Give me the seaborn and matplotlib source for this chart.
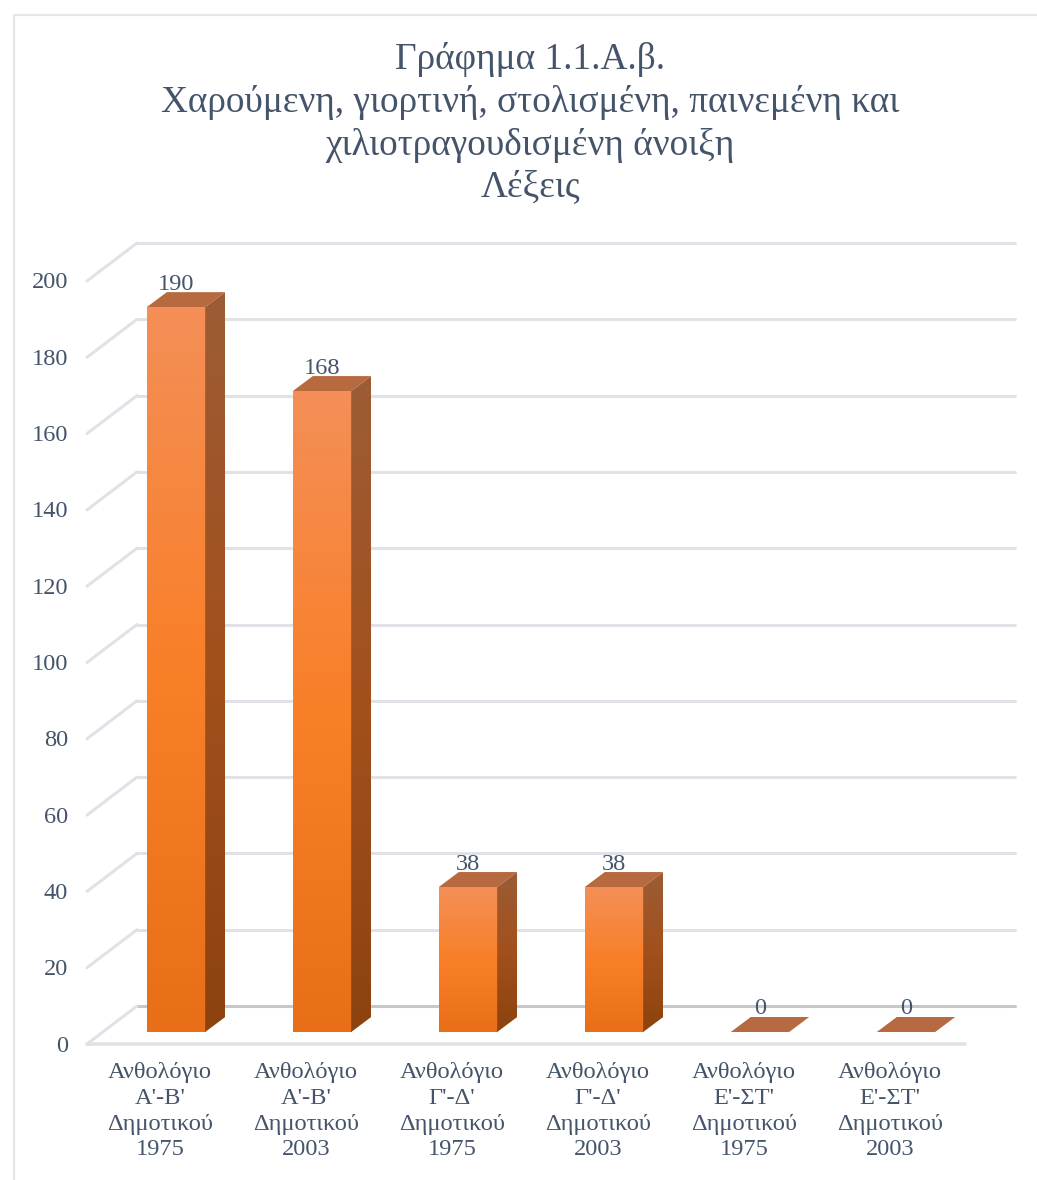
import numpy as np
import pandas as pd
import seaborn as sns
import matplotlib
matplotlib.use("Agg")
import matplotlib.pyplot as plt
from matplotlib.colors import LinearSegmentedColormap
from matplotlib.lines import Line2D
from matplotlib.patches import Polygon
from matplotlib.transforms import Affine2D

categories = ["Ανθολόγιο\nΑ'-Β'\nΔημοτικού\n1975", "Ανθολόγιο\nΑ'-Β'\nΔημοτικού\n2003",
              "Ανθολόγιο\nΓ'-Δ'\nΔημοτικού\n1975", "Ανθολόγιο\nΓ'-Δ'\nΔημοτικού\n2003",
              "Ανθολόγιο\nΕ'-ΣΤ'\nΔημοτικού\n1975", "Ανθολόγιο\nΕ'-ΣΤ'\nΔημοτικού\n2003"]
values = [190, 168, 38, 38, 0, 0]
y_ticks = list(range(0, 201, 20))
title = ("Γράφημα 1.1.Α.β.\nΧαρούμενη, γιορτινή, στολισμένη, παινεμένη και\n"
         "χιλιοτραγουδισμένη άνοιξη\nΛέξεις")

W, H = 1037, 1180
TEXT = "#44546A"
GRID = "#E0E2E7"
GRID_DARK = "#C6C8CF"
PX_X = 146.0      # pixels per category
PX_Y = 3.815      # pixels per value unit
X0_PX, Y0_PX = 176.0, 1032.0  # pixel of category 0 centre / value 0
L, R, T, B = 87, 1015, 243, 1044
FS = 17.6

sns.set_theme(style="white")
plt.rcParams["font.family"] = ["Liberation Serif", "DejaVu Sans"]

fig = plt.figure(figsize=(W / 100, H / 100), dpi=100, facecolor="white")
ax = fig.add_axes([L / W, 1 - B / H, (R - L) / W, (B - T) / H])
ax.set_facecolor("none")

df = pd.DataFrame({"category": categories, "value": values})
sns.barplot(data=df, x="category", y="value", order=categories, color="#F97F28",
            width=0.4, gap=0, errorbar=None, ax=ax, zorder=2, linewidth=0)

xlim = ((L - X0_PX) / PX_X, (R - X0_PX) / PX_X)
ylim = ((Y0_PX - B) / PX_Y, (Y0_PX - T) / PX_Y)
ax.set_xlim(xlim)
ax.set_ylim(ylim)
ax.set_xlabel("")
ax.set_ylabel("")
for s in ax.spines.values():
    s.set_visible(False)

# 3-D walls: pixel offsets relative to the value scale
back = Affine2D().translate(0, 26)
front = Affine2D().translate(0, -12)
wall_dx = 50 / PX_X
x_back_end = xlim[1]
x_front_end = xlim[0] + (965 - L) / PX_X
for v in y_ticks:
    dark = v == 0
    ax.plot([xlim[0] + wall_dx, x_back_end], [v, v], color=GRID_DARK if dark else GRID, lw=2.2,
            transform=ax.transData + back, clip_on=False, zorder=1, solid_capstyle="round")
    y_f = v - 12 / PX_Y
    y_b = v + 26 / PX_Y
    ax.plot([xlim[0], xlim[0] + wall_dx], [y_f, y_b], color=GRID, lw=2.2, clip_on=False,
            zorder=1, solid_capstyle="round")
ax.plot([xlim[0], x_front_end], [0, 0], color=GRID, lw=2.6, transform=ax.transData + front,
        clip_on=False, zorder=1, solid_capstyle="round")

# Bar faces
cm_front = LinearSegmentedColormap.from_list("f", ["#F48F57", "#F97F28", "#E86E18"])
cm_side = LinearSegmentedColormap.from_list("s", ["#9C5C35", "#A2501C", "#8C430F"])
top_color = "#B76A3F"
grad = np.linspace(0, 1, 256).reshape(-1, 1)
dx = 20 / PX_X
dy = 15 / PX_Y
bars = list(ax.containers[0])
for bar, v in zip(bars, values):
    x0, x1 = bar.get_x(), bar.get_x() + bar.get_width()
    ax.add_patch(Polygon([(x0, v), (x1, v), (x1 + dx, v + dy), (x0 + dx, v + dy)],
                         facecolor=top_color, edgecolor="none", zorder=3))
    if v <= 0:
        continue
    im = ax.imshow(grad, cmap=cm_front, extent=(x0, x1, 0, v), aspect="auto", zorder=3, origin="upper")
    im.set_clip_path(bar)
    side = Polygon([(x1, 0), (x1 + dx, dy), (x1 + dx, v + dy), (x1, v)], facecolor="none",
                   edgecolor="none", zorder=3)
    ax.add_patch(side)
    im2 = ax.imshow(grad, cmap=cm_side, extent=(x1, x1 + dx, 0, v + dy), aspect="auto", zorder=3,
                    origin="upper")
    im2.set_clip_path(side)
ax.set_xlim(xlim)
ax.set_ylim(ylim)

ax.bar_label(ax.containers[0], labels=[str(v) for v in values], padding=9, fontsize=FS,
             color=TEXT, zorder=4)

ax.set_yticks(y_ticks)
ax.set_yticklabels([str(v) for v in y_ticks])
ax.set_xticks(range(len(categories)))
ax.set_xticklabels(categories, linespacing=1.3)
ax.tick_params(axis="y", length=0, pad=13.5, labelsize=FS, labelcolor=TEXT)
ax.tick_params(axis="x", length=0, pad=13, labelsize=FS, labelcolor=TEXT)
for lab in ax.get_yticklabels():
    lab.set_transform(lab.get_transform() + Affine2D().translate(0, -11.5))
for lab in ax.get_xticklabels():
    lab.set_transform(lab.get_transform() + Affine2D().translate(-16, 0))

fig.text(530 / W, 1 - 42 / H, title, ha="center", va="top", fontsize=26.8, color=TEXT,
         linespacing=1.295)

# Chart frame
frame = "#E2E7EC"
fig.add_artist(Line2D([13.5 / W, 13.5 / W], [0, 1 - 14.5 / H], color=frame, lw=1.6))
fig.add_artist(Line2D([13.5 / W, 1], [1 - 14.5 / H, 1 - 14.5 / H], color=frame, lw=1.6))

fig.savefig("out.png", dpi=100)
